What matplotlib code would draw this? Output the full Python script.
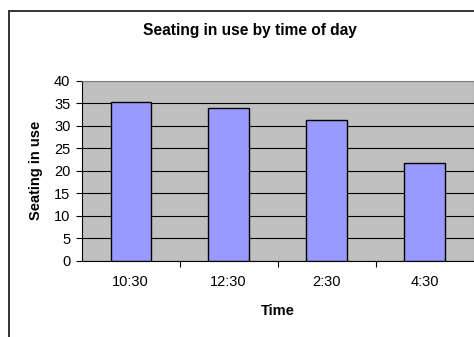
import matplotlib.pyplot as plt
from matplotlib.lines import Line2D

plt.rcParams['font.family'] = ['Liberation Sans', 'DejaVu Sans']

# seats occupied at each survey time
times = ["10:30", "12:30", "2:30", "4:30"]
seats = [35.2, 34.0, 31.3, 21.7]
y_ticks = [0, 5, 10, 15, 20, 25, 30, 35, 40]

W, H = 474, 337
fig = plt.figure(figsize=(W / 100, H / 100), dpi=100)
fig.patch.set_facecolor("white")

# chart frame (left and top edges fall inside the image)
fig.add_artist(Line2D([9 / W, 9 / W], [0, 1 - 11 / H], transform=fig.transFigure,
                      color="#333333", lw=1.4))
fig.add_artist(Line2D([9 / W, 1], [1 - 11 / H, 1 - 11 / H], transform=fig.transFigure,
                      color="#333333", lw=1.4))

left, right, top, bottom = 81.6, 473.5, 80.7, 261
ax = fig.add_axes([left / W, 1 - bottom / H, (right - left) / W, (bottom - top) / H])
ax.set_facecolor("#C0C0C0")

x = list(range(len(times)))
ax.bar(x, seats, width=0.41, color="#9999FF", edgecolor="black", linewidth=1.0, zorder=3)

ax.set_xlim(-0.5, len(times) - 0.5)
ax.set_ylim(0, 40)
ax.set_yticks(y_ticks)
ax.yaxis.grid(True, color="black", linewidth=0.8, zorder=1)
ax.set_axisbelow(True)

# category separators as major ticks, labels on minor ticks at the bar centres
ax.set_xticks([i + 0.5 for i in x[:-1]])
ax.set_xticklabels([])
ax.set_xticks(x, minor=True)
ax.set_xticklabels(times, minor=True)
ax.tick_params(axis="x", which="major", length=4, width=0.8, direction="out")
ax.tick_params(axis="x", which="minor", length=0, pad=10, labelsize=10.5)
ax.tick_params(axis="y", length=4, width=0.8, direction="out", pad=4, labelsize=10.5)

for s in ["top", "right"]:
    ax.spines[s].set_color("#808080")
    ax.spines[s].set_linewidth(0.8)
for s in ["left", "bottom"]:
    ax.spines[s].set_color("black")
    ax.spines[s].set_linewidth(0.8)

ax.set_ylabel("Seating in use", fontsize=10.5, fontweight="bold")
ax.yaxis.set_label_coords((43 - left) / (right - left), 0.5)
ax.set_xlabel("Time", fontsize=10.5, fontweight="bold")
ax.xaxis.set_label_coords(0.5, (bottom - 304) / (bottom - top))

fig.text(249.5 / W, 1 - 30 / H, "Seating in use by time of day", ha="center", va="center",
         fontsize=11.2, fontweight="bold")

fig.savefig("out.png", dpi=100)
